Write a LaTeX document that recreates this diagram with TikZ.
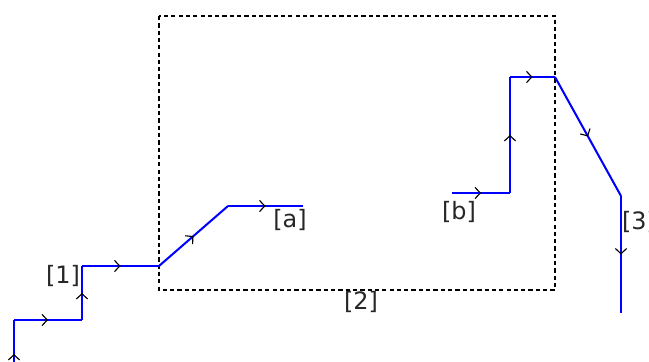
\documentclass[tikz,border=0pt]{standalone}
\usepackage{fontspec}
\setmainfont{DejaVu Sans}
\usetikzlibrary{arrows.meta,decorations.markings}

\begin{document}
\begin{tikzpicture}[
    x=0.025cm, y=-0.025cm,
    line join=miter, line cap=butt,
    flow/.style={draw=blue, line width=1.45pt,
      postaction={decorate, decoration={markings,
        mark=at position 0.5 with {\arrow[black,line width=0.8pt]{Straight Barb[length=1.3mm,width=2.8mm]}}}}},
    regionbox/.style={draw=black, line width=1pt, dash pattern=on 3pt off 2.2pt},
    tag/.style={font=\fontsize{17}{17}\selectfont, text=black!85, inner sep=0pt},
  ]

  % ---------- frame (reference size in px) ----------
  \useasboundingbox (0,0) rectangle (649,361);
  \clip (0,0) rectangle (649,361);

  % ---------- dashed region [2] ----------
  \draw[regionbox] (159,16) rectangle (555,290);

  % ---------- path points ----------
  \coordinate (p0) at (14,388);
  \coordinate (p1) at (14,320);
  \coordinate (p2) at (82,320);
  \coordinate (p3) at (82,266);
  \coordinate (p4) at (159,266);
  \coordinate (a0) at (228,206);
  \coordinate (a1) at (303,206);
  \coordinate (b0) at (452,193);
  \coordinate (b1) at (510,193);
  \coordinate (b2) at (510,77);
  \coordinate (b3) at (555,77);
  \coordinate (q0) at (621,196);
  \coordinate (q1) at (621,313);

  % ---------- segments ----------
  \foreach \s/\e in {p0/p1,p1/p2,p2/p3,p3/p4,p4/a0,a0/a1,b0/b1,b1/b2,b2/b3,b3/q0,q0/q1}
    \path[flow] (\s) -- (\e);

  % ---------- labels ----------
  \node[tag] (l1) at (63,276) {[1]};
  \node[tag] (l2) at (361,302) {[2]};
  \node[tag] (l3) at (639,222) {[3]};
  \node[tag] (la) at (290,220) {[a]};
  \node[tag] (lb) at (459,212) {[b]};

\end{tikzpicture}
\end{document}
